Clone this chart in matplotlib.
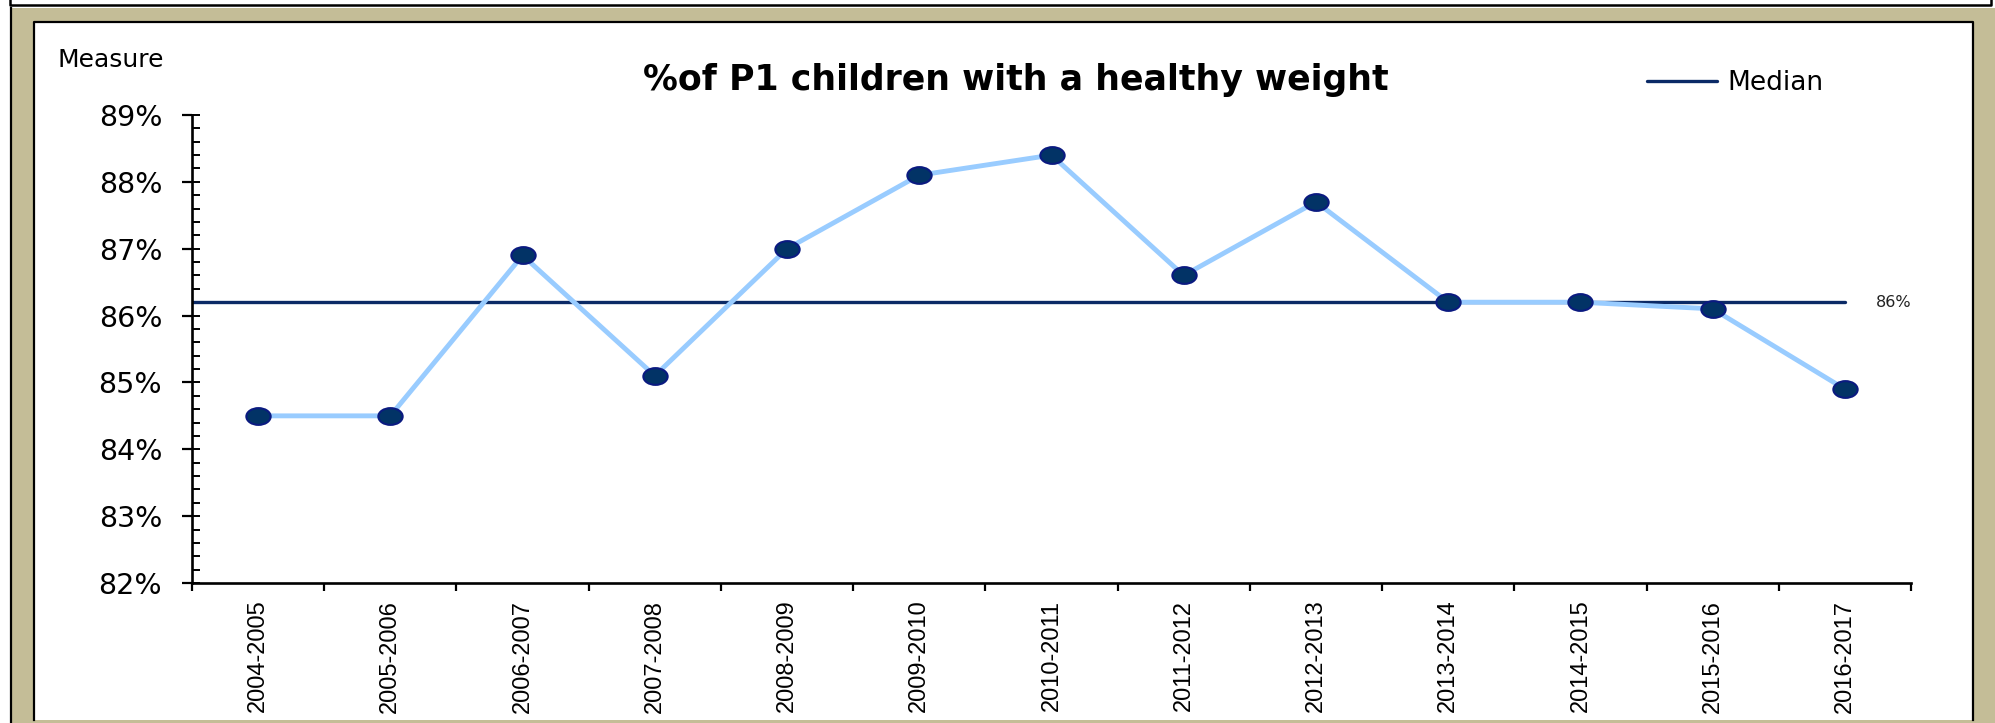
# coding: utf-8
"""
make line chart of P1 healthy weight with median line.
"""
import numpy as np
import matplotlib
matplotlib.use("Agg")
import matplotlib.pyplot as plt
from matplotlib import font_manager
from matplotlib.lines import Line2D
from matplotlib.markers import MarkerStyle
from matplotlib.patches import Rectangle
from matplotlib.path import Path
from matplotlib.ticker import FixedLocator, MultipleLocator, FuncFormatter
from matplotlib.transforms import Affine2D

years = ["2004-2005", "2005-2006", "2006-2007", "2007-2008", "2008-2009",
         "2009-2010", "2010-2011", "2011-2012", "2012-2013", "2013-2014",
         "2014-2015", "2015-2016", "2016-2017"]
healthy_pct = [84.5, 84.5, 86.9, 85.1, 87.0, 88.1, 88.4, 86.6, 87.7,
               86.2, 86.2, 86.1, 84.9]
y_min, y_max = 82, 89

W, H = 1995, 723
TAN = "#C4BD97"
LIGHT_BLUE = "#99CCFF"
NAVY = "#0B2A66"
MARK_FACE = "#023366"
MARK_EDGE = "#0A1A80"


def fx(x):
    """pixel x to figure fraction."""
    return x / W


def fy(y):
    """pixel y (from top) to figure fraction."""
    return 1 - y / H


def add_rect(fig, x0, y0, x1, y1, color, z):
    fig.add_artist(Rectangle((fx(x0), fy(y1)), fx(x1) - fx(x0), fy(y0) - fy(y1),
                             transform=fig.transFigure, facecolor=color,
                             edgecolor="none", zorder=z))


def add_line(fig, xs, ys, lw=1.6):
    fig.add_artist(Line2D([fx(v) for v in xs], [fy(v) for v in ys],
                          transform=fig.transFigure, color="black", lw=lw,
                          zorder=-5))


def draw_frame(fig):
    """tan excel-like frame around the chart."""
    add_rect(fig, 10, 8, W, H, TAN, -10)
    add_rect(fig, 34, 22, 1972, 720, "white", -9)
    # top box coming from the chart above
    add_line(fig, [10, 10, 1991, 1991], [0, 5, 5, 0], lw=1.8)
    add_line(fig, [11, 11], [8, H], lw=1.6)
    add_line(fig, [34, 34, 1973, 1973], [720, 22, 22, 720], lw=1.6)


def ellipse_marker():
    path = Path.unit_circle().transformed(Affine2D().scale(1.45, 1.0))
    return MarkerStyle(path)


def mk_line(fig):
    ax = fig.add_axes([fx(192), fy(583), fx(1911) - fx(192), fy(115) - fy(583)])
    ax.set_facecolor("none")
    x = np.arange(len(years))
    median = np.median(healthy_pct)

    ax.plot([-0.5, x[-1]], [median, median], color=NAVY, lw=2.4,
            solid_capstyle="round", zorder=2, label="Median")
    ax.plot(x, healthy_pct, color=LIGHT_BLUE, lw=3.5, zorder=3,
            marker=ellipse_marker(), markersize=17.5,
            markerfacecolor=MARK_FACE, markeredgecolor=MARK_EDGE,
            markeredgewidth=1.5)
    ax.annotate("{:.0f}%".format(median), xy=(x[-1], median),
                xytext=(22, 0), textcoords="offset points",
                ha="left", va="center", fontsize=11.5, color="#222222")

    ax.set_xlim(-0.5, len(years) - 0.5)
    ax.set_ylim(y_min, y_max)
    for side in ["top", "right"]:
        ax.spines[side].set_visible(False)
    for side in ["left", "bottom"]:
        ax.spines[side].set_linewidth(1.9)

    # y axis
    ax.yaxis.set_major_locator(MultipleLocator(1))
    ax.yaxis.set_minor_locator(MultipleLocator(0.2))
    ax.yaxis.remove_overlapping_locs = False
    ax.yaxis.set_major_formatter(FuncFormatter(lambda v, p: "{:.0f}%".format(v)))
    ax.tick_params(axis="y", which="major", direction="out", length=7.5,
                   width=1.6, pad=14, labelsize=20.5)
    ax.tick_params(axis="y", which="minor", direction="in", length=6,
                   width=1.4)

    # x axis: labels at centres, ticks at boundaries
    ax.set_xticks(x)
    names = {f.name for f in font_manager.fontManager.ttflist}
    if "Liberation Sans Narrow" in names:
        xfont, xsize = "Liberation Sans Narrow", 21
    else:
        xfont, xsize = "Liberation Sans", 17
    ax.set_xticklabels(years, rotation=90, fontsize=xsize, family=xfont)
    ax.xaxis.set_minor_locator(FixedLocator(np.arange(len(years) + 1) - 0.5))
    ax.tick_params(axis="x", which="major", length=0, pad=12)
    ax.tick_params(axis="x", which="minor", direction="out", length=6,
                   width=1.6)

    fig.text(fx(1016), fy(80), "%of P1 children with a healthy weight",
             ha="center", va="center", fontsize=25, fontweight="bold")
    fig.text(fx(57), fy(60), "Measure", ha="left", va="center", fontsize=18)

    handles, labels = ax.get_legend_handles_labels()
    fig.legend(handles, labels, loc="center left",
               bbox_to_anchor=(fx(1647), fy(83)), frameon=False,
               fontsize=19, handlelength=2.65, handletextpad=0.38,
               borderpad=0, borderaxespad=0)
    return ax


def main():
    plt.rcParams["font.family"] = ["DejaVu Sans"]
    fig = plt.figure(figsize=(W / 100, H / 100), dpi=100)
    fig.patch.set_facecolor("white")
    draw_frame(fig)
    mk_line(fig)
    fig.savefig("out.png", dpi=100)


if __name__ == "__main__":
    main()
